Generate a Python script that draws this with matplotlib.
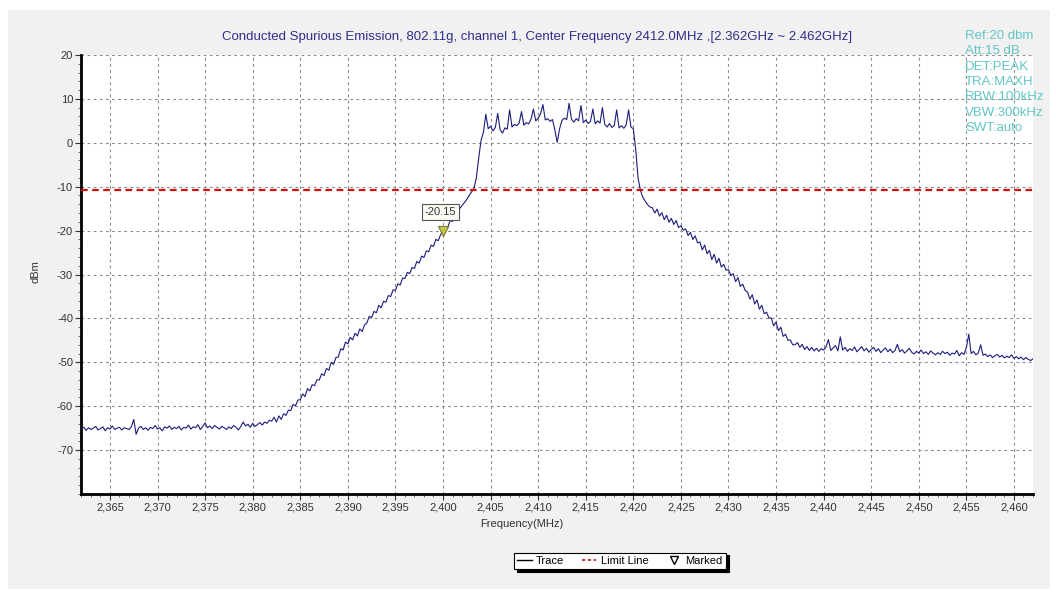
import numpy as np
import matplotlib.pyplot as plt
from matplotlib.lines import Line2D
from matplotlib.patches import Rectangle
from matplotlib.ticker import MultipleLocator, FuncFormatter

plt.rcParams['font.family'] = ['Liberation Sans', 'DejaVu Sans']
plt.rcParams['axes.unicode_minus'] = False

# sweep 2362 - 2462 MHz, 0.25 MHz per trace point
f_start = 2362.0
f_stop = 2462.0
n_points = 401

# max-hold trace (dBm), one row per 5 MHz
trace_dbm = [
    -65.2, -64.8, -65.5, -64.9, -65.3, -65.0, -64.6, -65.4, -65.1, -64.7, -65.6, -64.9, -65.2, -64.5, -65.3, -65.0, -64.8, -65.4, -64.9, -65.1,
    -65.3, -64.7, -63.0, -66.4, -65.0, -64.6, -65.3, -64.9, -65.5, -64.8, -65.1, -64.4, -65.2, -64.9, -65.6, -64.7, -65.0, -64.5, -65.3, -64.8,
    -65.1, -64.6, -65.4, -64.8, -65.0, -64.3, -65.2, -64.7, -64.9, -64.2, -65.3, -64.6, -63.8, -64.9, -64.5, -65.1, -64.4, -64.8, -65.2, -64.6,
    -64.9, -65.3, -64.7, -65.1, -64.4, -64.8, -65.4, -64.6, -63.6, -64.5, -64.1, -64.8, -63.9, -64.6, -64.2, -63.7, -64.3, -63.6, -63.9, -63.2,
    -63.4, -62.5, -63.6, -62.2, -63.0, -61.7, -62.1, -60.9, -61.0, -59.6, -59.9, -58.6, -58.5, -57.2, -57.8, -56.0, -56.5, -55.1, -55.3, -54.0,
    -54.0, -52.6, -53.0, -51.4, -51.8, -50.0, -50.5, -48.9, -48.8, -46.9, -47.2, -45.4, -45.8, -44.3, -44.9, -43.4, -44.0, -42.4, -43.0, -41.5,
    -41.0, -39.5, -39.8, -38.4, -38.7, -37.0, -37.6, -36.1, -36.3, -34.8, -35.0, -33.5, -33.6, -32.1, -32.4, -30.8, -30.9, -29.5, -29.8, -28.4,
    -28.6, -27.0, -27.4, -25.8, -26.1, -24.6, -24.8, -23.3, -23.6, -22.0, -22.3, -20.9, -20.15, -19.2, -19.3, -17.7, -17.9, -16.4, -16.5, -15.0,
    -14.3, -13.6, -12.9, -12.0, -11.2, -10.4, -8.0, -3.5, 0.6, 2.4, 6.5, 3.2, 3.8, 2.7, 3.5, 6.7, 3.0, 2.2, 3.4, 3.1,
    7.5, 3.6, 4.2, 3.9, 4.5, 7.1, 4.0, 4.6, 4.3, 5.4, 7.7, 5.0, 5.6, 6.6, 8.7, 5.2, 5.5, 4.9, 5.3, 3.0,
    0.1, 3.2, 5.1, 5.6, 5.3, 9.0, 5.4, 4.7, 5.5, 5.0, 8.5, 4.6, 5.2, 4.4, 4.9, 7.7, 4.3, 5.0, 4.5, 8.0,
    4.2, 3.6, 4.4, 3.5, 4.0, 7.5, 3.4, 3.9, 3.3, 4.1, 7.5, 3.6, 3.2, -1.5, -8.0, -10.9, -12.4, -13.3, -14.1, -14.6,
    -14.8, -16.0, -15.1, -16.7, -15.9, -17.5, -16.5, -18.1, -17.2, -18.6, -17.7, -19.3, -18.9, -19.9, -19.6, -21.1, -20.4, -22.0, -21.2, -22.8,
    -22.6, -24.4, -23.3, -25.3, -24.5, -26.6, -25.4, -27.4, -26.3, -28.3, -27.7, -29.0, -28.9, -30.2, -29.8, -31.6, -30.7, -32.7, -32.2, -33.6,
    -34.0, -35.6, -34.6, -36.7, -35.8, -37.9, -37.0, -38.9, -38.6, -39.9, -39.9, -41.7, -40.8, -42.8, -42.0, -44.1, -43.6, -45.0, -44.9, -46.0,
    -46.0, -45.5, -46.6, -45.9, -47.1, -46.4, -47.3, -46.6, -47.4, -46.8, -47.5, -46.9, -47.2, -46.5, -44.8, -47.3, -46.7, -46.2, -47.4, -44.2,
    -47.2, -46.6, -47.5, -46.9, -47.3, -46.5, -47.6, -47.0, -46.4, -47.4, -46.8, -47.7, -47.1, -46.6, -47.5, -46.9, -47.8, -47.2, -46.7, -47.6,
    -47.0, -47.8, -47.3, -45.9, -47.6, -47.1, -47.9, -47.4, -46.8, -47.7, -48.1, -47.5, -47.9, -47.2, -48.0, -47.6, -48.2, -47.4, -47.9, -48.3,
    -47.8, -48.2, -47.5, -48.0, -47.7, -48.4, -47.9, -48.1, -47.3, -48.5, -47.8, -48.2, -46.6, -43.6, -48.0, -47.5, -48.3, -47.9, -46.0, -48.4,
    -48.1, -48.7, -48.3, -48.9, -48.5, -48.2, -48.8, -48.4, -49.0, -48.6, -48.9, -48.3, -49.1, -48.7, -49.2, -48.8, -49.4, -48.9, -49.3, -49.6,
    -49.2,
]

limit_dbm = -10.85
marker_freq = 2400.0
marker_dbm = -20.15

title = ("Conducted Spurious Emission, 802.11g, channel 1, Center Frequency 2412.0MHz "
         ",[2.362GHz ~ 2.462GHz]")
settings = ["Ref:20 dbm", "Att:15 dB", "DET:PEAK", "TRA:MAXH",
            "RBW:100kHz", "VBW:300kHz", "SWT:auto"]

freq = np.linspace(f_start, f_stop, n_points)

fig = plt.figure(figsize=(10.56, 5.96), dpi=100, facecolor='white')
fig.patches.append(Rectangle((0.008, 0.012), 0.986, 0.972, transform=fig.transFigure,
                             facecolor='#f1f1f1', edgecolor='none', zorder=-10))

ax = fig.add_axes([0.0771, 0.1711, 0.9011, 0.7366])
ax.set_facecolor('white')

ax.plot(freq, trace_dbm, color='#1c1c7c', lw=0.8, zorder=3)
ax.axhline(limit_dbm, color='#d01010', lw=1.6, ls=(0, (3, 2)), zorder=4)
ax.plot([marker_freq], [marker_dbm], marker='v', ms=7, color='#c8c850',
        markeredgecolor='#7a7a30', markeredgewidth=0.8, ls='none', zorder=5)
ax.annotate(f"{marker_dbm:.2f}", (marker_freq, marker_dbm), xytext=(-2, 14),
            textcoords='offset points', ha='center', va='center', fontsize=8,
            color='#333333', zorder=6,
            bbox=dict(boxstyle='square,pad=0.25', facecolor='#fbfbf4',
                      edgecolor='#555555', lw=0.8))

ax.set_xlim(f_start, f_stop)
ax.set_ylim(-80, 20)
ax.xaxis.set_minor_locator(MultipleLocator(1))
ax.yaxis.set_minor_locator(MultipleLocator(2))
ax.set_xticks(np.arange(2365, 2461, 5))
ax.set_yticks(np.arange(-70, 21, 10))
ax.xaxis.set_major_formatter(FuncFormatter(lambda v, p: f"{int(round(v)):,}"))

for s in ['top', 'right']:
    ax.spines[s].set_visible(False)
for s in ['left', 'bottom']:
    ax.spines[s].set_linewidth(2)
    ax.spines[s].set_color('black')

ax.tick_params(which='major', length=4, width=0.8, labelsize=8, colors='#333333',
               pad=2)
ax.tick_params(which='minor', length=2, width=0.6, color='#555555')
ax.grid(True, which='major', color='#8a8a8a', lw=0.8, ls=(0, (2.5, 3)))

fig.text(0.0335, 0.544, "dBm", rotation=90, ha='center', va='center',
         fontsize=8, color='#333333')
fig.text(0.494, 0.121, "Frequency(MHz)", ha='center', va='center',
         fontsize=8, color='#333333')
fig.text(0.5085, 0.938, title, ha='center', va='center', fontsize=9.5,
         color='#2e2e8c')

for i, s in enumerate(settings):
    fig.text(0.914, 1 - (36 + 15.3 * i) / 596, s, ha='left', va='center',
             fontsize=9.5, color='#62c6c6')

handles = [
    Line2D([], [], color='black', lw=1),
    Line2D([], [], color='#d01010', lw=1.2, ls=(0, (2, 1.5))),
    Line2D([], [], marker='v', ms=6, markerfacecolor='none', markeredgecolor='black',
           ls='none'),
]
leg = fig.legend(handles, ["Trace", "Limit Line", "Marked"], loc='center',
                 bbox_to_anchor=(0.587, 0.059), ncol=3, fontsize=8,
                 frameon=True, fancybox=False, handlelength=1.3,
                 handletextpad=0.4, columnspacing=1.6, borderpad=0.3,
                 shadow={'color': 'black', 'alpha': 1.0})
leg.get_frame().set_edgecolor('black')
leg.get_frame().set_linewidth(0.8)

fig.savefig('out.png', dpi=100, facecolor=fig.get_facecolor())
